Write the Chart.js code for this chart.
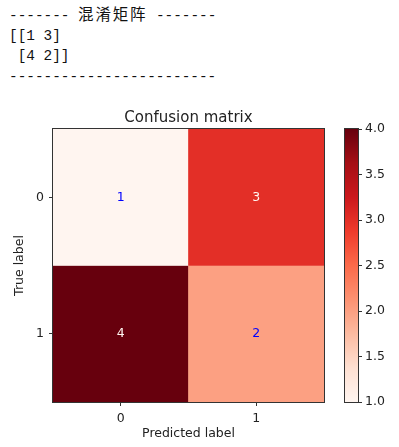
<!DOCTYPE html>
<html>
<head>
<meta charset="utf-8">
<script src="https://cdn.jsdelivr.net/npm/chart.js@4.4.0/dist/chart.umd.min.js"></script>
<style>
  body { margin: 0; background: #fff; width: 399px; height: 447px; overflow: hidden; position: relative; }
  #console { position: absolute; left: 9px; top: 3px; margin: 0; font: 14.4px/20.2px "Liberation Mono", monospace; color: #111; }
  #console .cjk { font-family: "Noto Sans CJK SC"; font-size: 15.5px; letter-spacing: 1.8px; }
  #matrix { position: absolute; left: 0; top: 95px; }
  #colorbar { position: absolute; left: 330px; top: 95px; }
</style>
</head>
<body>
<pre id="console"></pre>
<canvas id="matrix" width="340" height="352"></canvas>
<canvas id="colorbar" width="69" height="352"></canvas>
<script>
// данные матрицы
const predictedLabels = ["0", "1"];
const trueLabels = ["0", "1"];
const row0Values = [1, 3];
const row1Values = [4, 2];
const colorbarMin = 1;
const colorbarMax = 4;
const chartTitle = "Confusion matrix";

// палитра Reds
const redsStops = ["#fff5f0", "#fee0d2", "#fcbba1", "#fc9272", "#fb6a4a", "#ef3b2c", "#cb181d", "#a50f15", "#67000d"];
const textFont = { family: "DejaVu Sans", size: 12.5 };
const textColor = "#222";

function hexToRgb(hex) {
  return [1, 3, 5].map((i) => parseInt(hex.substr(i, 2), 16));
}

function redsColor(t) {
  const pos = Math.min(Math.max(t, 0), 1) * (redsStops.length - 1);
  const i = Math.min(Math.floor(pos), redsStops.length - 2);
  const f = pos - i;
  const a = hexToRgb(redsStops[i]);
  const b = hexToRgb(redsStops[i + 1]);
  const c = a.map((v, k) => Math.round(v + (b[k] - v) * f));
  return `rgb(${c[0]}, ${c[1]}, ${c[2]})`;
}

// консольный вывод
const rows = [row0Values, row1Values];
document.querySelector("#console").innerHTML =
  '------- <span class="cjk">混淆矩阵</span> -------\n' +
  "[" + rows.map((r) => "[" + r.join(" ") + "]").join("\n ") + "]\n" +
  "------------------------";

// рамка вокруг области
const framePlugin = {
  id: "frame",
  afterDatasetsDraw(chart) {
    const { ctx, chartArea } = chart;
    ctx.save();
    ctx.strokeStyle = "#333";
    ctx.lineWidth = 1;
    ctx.strokeRect(
      Math.round(chartArea.left) - 0.5,
      Math.round(chartArea.top) - 0.5,
      Math.round(chartArea.right - chartArea.left) + 1,
      Math.round(chartArea.bottom - chartArea.top) + 1
    );
    ctx.restore();
  },
};

// заголовок по центру области данных
const areaTitle = {
  id: "areaTitle",
  afterDraw(chart) {
    const { ctx, chartArea } = chart;
    ctx.save();
    ctx.font = "15px DejaVu Sans";
    ctx.fillStyle = textColor;
    ctx.textAlign = "center";
    ctx.textBaseline = "alphabetic";
    ctx.fillText(chartTitle, (chartArea.left + chartArea.right) / 2, chartArea.top - 7);
    ctx.restore();
  },
};

// подписи значений в ячейках
const cellLabels = {
  id: "cellLabels",
  afterDatasetsDraw(chart) {
    const ctx = chart.ctx;
    ctx.save();
    ctx.font = `${textFont.size}px ${textFont.family}`;
    ctx.textAlign = "center";
    ctx.textBaseline = "middle";
    chart.data.datasets.forEach((ds, d) => {
      chart.getDatasetMeta(d).data.forEach((bar, i) => {
        const v = ds.values[i];
        const p = bar.getCenterPoint();
        ctx.fillStyle = v > (colorbarMin + colorbarMax) / 2 ? "#fff5f0" : "blue";
        ctx.fillText(String(v), p.x, p.y);
      });
    });
    ctx.restore();
  },
};

const tickGrid = { drawOnChartArea: false, drawTicks: true, tickLength: 4, color: "#333", offset: false };

new Chart(document.getElementById("matrix"), {
  type: "bar",
  data: {
    labels: predictedLabels,
    datasets: rows.map((vals, r) => ({
      label: "True " + trueLabels[r],
      data: vals.map(() => [r - 0.5, r + 0.5]),
      values: vals,
      backgroundColor: vals.map((v) => redsColor((v - colorbarMin) / (colorbarMax - colorbarMin))),
      borderWidth: 0,
      barPercentage: 1,
      categoryPercentage: 1,
      grouped: false,
    })),
  },
  options: {
    responsive: false,
    animation: false,
    layout: { padding: { left: 0, top: 34, right: 16, bottom: 0 } },
    plugins: {
      legend: { display: false },
      tooltip: { enabled: false },
      title: { display: false },
    },
    scales: {
      x: {
        offset: true,
        grid: tickGrid,
        border: { display: false },
        ticks: { color: textColor, font: textFont, padding: 5, maxRotation: 0 },
        title: { display: true, text: "Predicted label", color: textColor, font: textFont, padding: { top: 0, bottom: 5.5 } },
        afterFit: (s) => { s.height = 45; },
      },
      y: {
        type: "linear",
        min: -0.5,
        max: 1.5,
        reverse: true,
        afterBuildTicks: (s) => { s.ticks = trueLabels.map((l, i) => ({ value: i })); },
        grid: tickGrid,
        border: { display: false },
        ticks: { color: textColor, font: textFont, padding: 5, callback: (v) => trueLabels[v] },
        title: { display: true, text: "True label", color: textColor, font: textFont, padding: { top: 12.5, bottom: 0 } },
        afterFit: (s) => { s.width = 53; },
      },
    },
  },
  plugins: [cellLabels, framePlugin, areaTitle],
});

// цветовая шкала
new Chart(document.getElementById("colorbar"), {
  type: "bar",
  data: {
    labels: [""],
    datasets: [{
      data: [[colorbarMin, colorbarMax]],
      backgroundColor: (c) => {
        const chart = c.chart;
        if (!chart.chartArea) return null;
        const ys = chart.scales.y;
        const g = chart.ctx.createLinearGradient(0, ys.getPixelForValue(colorbarMin), 0, ys.getPixelForValue(colorbarMax));
        redsStops.forEach((col, i) => g.addColorStop(i / (redsStops.length - 1), col));
        return g;
      },
      borderWidth: 0,
      barPercentage: 1,
      categoryPercentage: 1,
    }],
  },
  options: {
    responsive: false,
    animation: false,
    layout: { padding: { left: 15, top: 34, right: 0, bottom: 45 } },
    plugins: { legend: { display: false }, tooltip: { enabled: false } },
    scales: {
      x: { display: false },
      y: {
        position: "right",
        min: colorbarMin,
        max: colorbarMax,
        grid: tickGrid,
        border: { display: false },
        ticks: { stepSize: 0.5, color: textColor, font: textFont, padding: 3, callback: (v) => v.toFixed(1) },
        afterFit: (s) => { s.width = 41; },
      },
    },
  },
  plugins: [framePlugin],
});
</script>
</body>
</html>
